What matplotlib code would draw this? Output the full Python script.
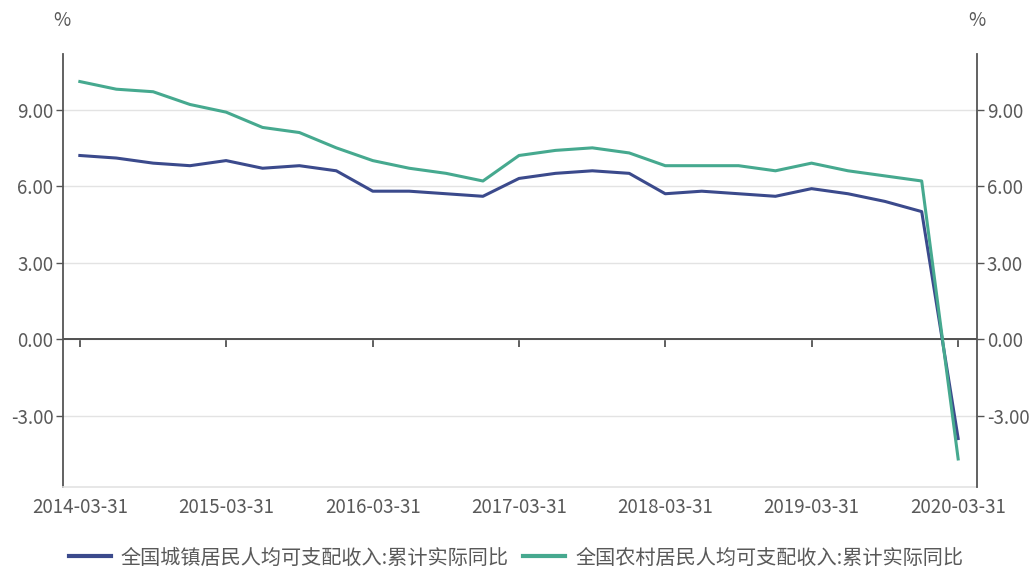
import matplotlib
matplotlib.use("Agg")
import matplotlib.pyplot as plt
import matplotlib.dates as mdates
import pandas as pd
import numpy as np

plt.rcParams['font.family'] = ['Noto Sans CJK SC', 'DejaVu Sans']

dates = pd.date_range("2014-03-31", "2020-03-31", freq="QE")
urban = [7.2, 7.1, 6.9, 6.8, 7.0, 6.7, 6.8, 6.6,
         5.8, 5.8, 5.7, 5.6, 6.3, 6.5, 6.6, 6.5,
         5.7, 5.8, 5.7, 5.6, 5.9, 5.7, 5.4, 5.0, -3.9]
rural = [10.1, 9.8, 9.7, 9.2, 8.9, 8.3, 8.1, 7.5,
         7.0, 6.7, 6.5, 6.2, 7.2, 7.4, 7.5, 7.3,
         6.8, 6.8, 6.8, 6.6, 6.9, 6.6, 6.4, 6.2, -4.7]
label_urban = "全国城镇居民人均可支配收入:累计实际同比"
label_rural = "全国农村居民人均可支配收入:累计实际同比"
xtick_labels = ["2014-03-31", "2015-03-31", "2016-03-31", "2017-03-31",
                "2018-03-31", "2019-03-31", "2020-03-31"]
yticks = [-3, 0, 3, 6, 9]

c_urban = "#3B4A8C"
c_rural = "#46A98F"
txt = "#595959"
spine_c = "#555555"
fs = 13.5

fig = plt.figure(figsize=(10.31, 5.70), dpi=100)
ax = fig.add_axes([63/1031, 1-487/570, (977-63)/1031, (487-54)/570])
ymin, ymax = -5.8, 11.18
ax.set_ylim(ymin, ymax)
ax.set_xlim(pd.Timestamp("2014-02-17"), pd.Timestamp("2020-05-17"))

ax.plot(dates, urban, color=c_urban, lw=2.2, label=label_urban, zorder=3)
ax.plot(dates, rural, color=c_rural, lw=2.2, label=label_rural, zorder=3)

ax.set_yticks(yticks)
ax.set_yticklabels([f"{v:.2f}" for v in yticks])
ax.grid(axis='y', color='#e3e3e3', lw=1)
ax.set_axisbelow(True)
ax.axhline(0, color='#444444', lw=1.3, zorder=2)

xt = [pd.Timestamp(s) for s in xtick_labels]
ax.set_xticks(xt)
ax.set_xticklabels(xtick_labels)
ax.tick_params(axis='x', length=0, pad=7, labelsize=fs, labelcolor=txt)
ax.tick_params(axis='y', length=5, width=1, color=spine_c, labelsize=fs, labelcolor=txt, pad=2)

for s in ['top', 'right']:
    ax.spines[s].set_visible(False)
ax.spines['left'].set_color(spine_c)
ax.spines['left'].set_linewidth(1.3)
ax.spines['bottom'].set_color('#e3e3e3')
ax.spines['bottom'].set_linewidth(1.2)

# tick marks on the zero line
zero_frac = (0 - ymin) / (ymax - ymin)
sec = ax.secondary_xaxis(zero_frac)
sec.set_xticks(xt)
sec.tick_params(axis='x', length=6, width=1.2, color='#444444', labelbottom=False, direction='out')
sec.set_xticklabels([])
sec.spines['bottom'].set_visible(False)

ax2 = ax.twinx()
ax2.set_ylim(ymin, ymax)
ax2.set_yticks(yticks)
ax2.set_yticklabels([f"{v:.2f}" for v in yticks])
ax2.tick_params(axis='y', length=5, width=1, color=spine_c, labelsize=fs, labelcolor=txt, pad=2)
for s in ['top', 'left', 'bottom']:
    ax2.spines[s].set_visible(False)
ax2.spines['right'].set_color(spine_c)
ax2.spines['right'].set_linewidth(1.3)

fig.text(62/1031, 1-20/570, "%", ha='center', va='center', fontsize=fs, color=txt)
fig.text(977/1031, 1-20/570, "%", ha='center', va='center', fontsize=fs, color=txt)

leg = fig.legend(loc='center', bbox_to_anchor=(516/1031, 1-558/570), ncol=2, frameon=False,
                 fontsize=14.5, handlelength=2.1, handletextpad=0.5, columnspacing=0.7,
                 labelcolor=txt, borderpad=0.2)
for l in leg.get_lines():
    l.set_linewidth(3)

fig.savefig("out.png", dpi=100)
